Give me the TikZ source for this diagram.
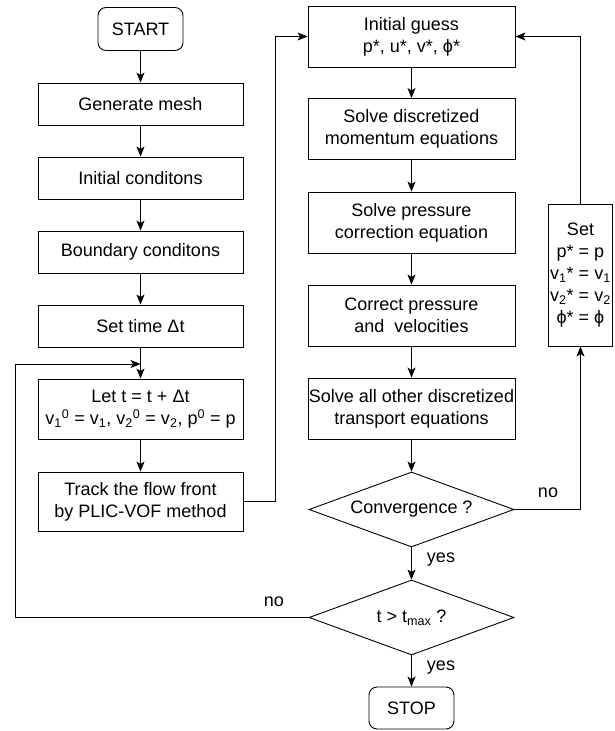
\documentclass[tikz,border=0pt]{standalone}
\usepackage{fontspec}
\setmainfont{Liberation Sans}
\usetikzlibrary{shapes.geometric,arrows.meta,calc}
\newcommand\vph{\symbol{"03D5}}
\begin{document}
\begin{tikzpicture}[x=1pt,y=-1pt,
  txt/.style={font=\fontsize{18}{22}\selectfont},
  box/.style={draw, line width=0.9pt, minimum width=205pt, inner sep=0pt, align=center, txt},
  rbox/.style={box, minimum width=207pt, minimum height=61pt},
  term/.style={draw, line width=0.9pt, rounded corners=8pt, minimum width=85pt, minimum height=43pt, inner sep=0pt, txt},
  dia/.style={draw, diamond, aspect=2.733, line width=0.9pt, minimum width=205pt, minimum height=75pt, inner sep=0pt, txt},
  arr/.style={-{Stealth[length=10pt,width=8pt,inset=2.5pt]}, line width=0.8pt},
  lbl/.style={txt, inner sep=0pt}]
\useasboundingbox (0,0) rectangle (615,731);
% left column
\node[term] (start) at (140.5,29) {START};
\node[box, minimum height=42pt] (gm) at (140.5,104) {Generate mesh};
\node[box, minimum height=42pt] (ic) at (140.5,178) {Initial conditons};
\node[box, minimum height=42pt] (bc) at (140.5,252) {Boundary conditons};
\node[box, minimum height=42pt] (st) at (140.5,326) {Set time \symbol{"0394}t};
\node[box, minimum height=60pt] (let) at (140.5,409) {Let t = t + \symbol{"0394}t\\v\textsubscript{1}\textsuperscript{0} = v\textsubscript{1}, v\textsubscript{2}\textsuperscript{0} = v\textsubscript{2}, p\textsuperscript{0} = p};
\node[box, minimum height=59pt] (track) at (140.5,501.5) {Track the flow front\\by PLIC-VOF method};
% right column
\node[rbox] (ig) at (411.5,36.5) {Initial guess\\p*, u*, v*, \vph*};
\node[rbox] (mom) at (411.5,129) {Solve discretized\\momentum equations};
\node[rbox] (pc) at (411.5,222.5) {Solve pressure\\correction equation};
\node[rbox] (cp) at (411.5,315.5) {Correct pressure\\and\ \ velocities};
\node[rbox] (tr) at (411.5,408.5) {Solve all other discretized\\transport equations};
\node[dia] (conv) at (411.5,509.5) {Convergence ?};
\node[dia] (tmax) at (411.5,617.5) {t > t\textsubscript{max} ?};
\node[term, minimum height=42pt] (stop) at (411.5,708) {STOP};
\node[box, minimum width=64pt, minimum height=142pt] (set) at (580.5,275) {Set\\p* = p\\v\textsubscript{1}* = v\textsubscript{1}\\v\textsubscript{2}* = v\textsubscript{2}\\\vph* = \vph};
% coordinates
\coordinate (j1) at (140.5,364);
\coordinate (lx) at (15,0);
\coordinate (mx) at (275.5,0);
% connectors
\draw[arr] (start) -- (gm);
\draw[arr] (gm) -- (ic);
\draw[arr] (ic) -- (bc);
\draw[arr] (bc) -- (st);
\draw[arr] (st) -- (let);
\draw[arr] (let) -- (track);
\draw[arr] (tmax.west) -- (tmax.west -| lx) |- (j1);
\draw[arr] (track.east) -- (track.east -| mx) |- (ig.west);
\draw[arr] (ig) -- (mom);
\draw[arr] (mom) -- (pc);
\draw[arr] (pc) -- (cp);
\draw[arr] (cp) -- (tr);
\draw[arr] (tr) -- (conv);
\draw[arr] (conv.east) -| (set.south);
\draw[arr] (set.north) |- (ig.east);
\draw[arr] (conv) -- (tmax);
\draw[arr] (tmax) -- (stop);
% labels
\node[lbl] (no1) at (548,493) {no};
\node[lbl] (no2) at (274,602) {no};
\node[lbl] (yes1) at (441,560) {yes};
\node[lbl] (yes2) at (441,668) {yes};
\end{tikzpicture}
\end{document}
